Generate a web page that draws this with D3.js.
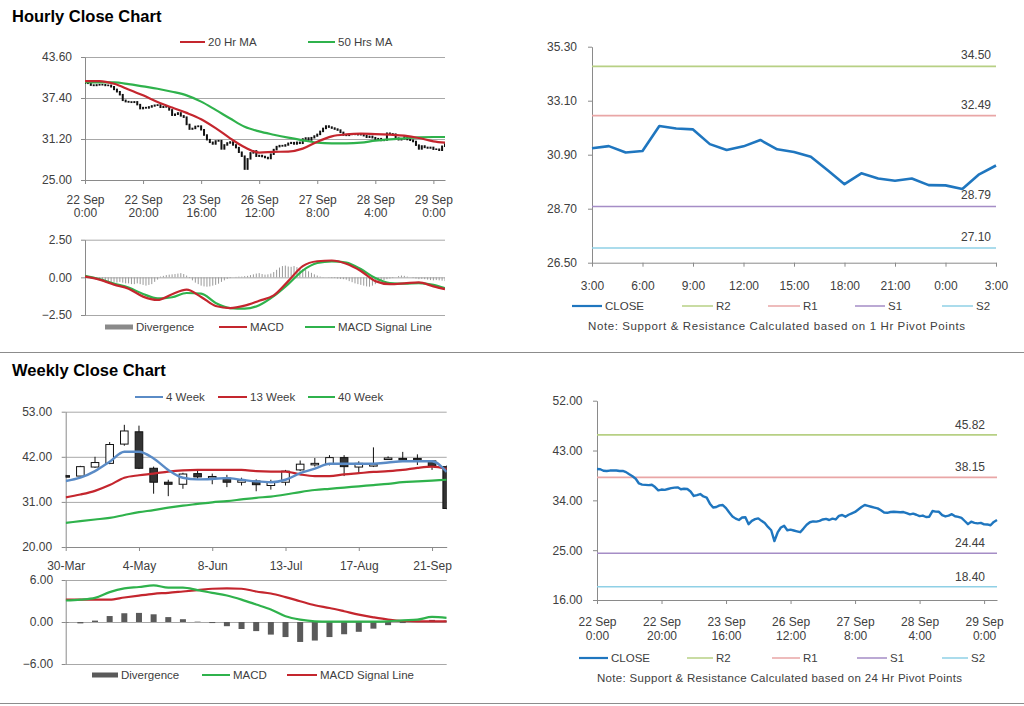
<!DOCTYPE html>
<html><head><meta charset="utf-8">
<script src="https://cdn.jsdelivr.net/npm/d3@7"></script>
<style>
body{margin:0;background:#fff;}
svg{display:block;}
</style></head><body>
<svg id="c" width="1024" height="706"></svg>
<script>
// ---------------- DATA ----------------
const hourTicks = [0, 20, 40, 60, 80, 100, 120];
const hourTickDays = ["22 Sep", "22 Sep", "23 Sep", "26 Sep", "27 Sep", "28 Sep", "29 Sep"];
const hourTickTimes = ["0:00", "20:00", "16:00", "12:00", "8:00", "4:00", "0:00"];

const hourlyClose = [
  39.66,39.62,39.35,39.30,39.38,39.42,39.40,39.30,39.32,39.10,
  38.70,38.35,37.90,37.05,36.85,36.80,36.75,36.82,36.40,35.80,
  35.95,35.90,36.05,36.20,36.30,36.35,36.00,36.10,36.05,35.60,
  34.80,34.95,35.14,34.70,34.50,33.40,32.70,32.80,33.10,33.15,
  32.60,31.80,31.10,30.70,30.45,30.90,30.95,29.70,30.30,30.60,
  30.75,30.30,29.90,29.20,28.60,26.65,28.20,29.10,29.40,28.60,
  28.70,28.55,28.40,28.25,28.90,29.60,30.05,30.20,30.15,30.30,
  30.55,30.65,30.45,30.70,30.55,31.20,31.35,31.05,31.40,31.65,
  31.90,32.35,32.80,33.16,33.00,32.85,32.70,32.55,32.20,31.80,
  31.75,31.90,31.95,31.90,31.85,31.89,31.70,31.47,31.60,31.40,
  31.16,31.25,30.99,31.05,32.07,31.97,31.93,31.33,31.09,31.24,
  31.50,31.12,31.01,30.82,30.27,29.70,30.14,29.93,29.84,29.93,
  29.66,29.65,29.50,30.10,30.46
];

const maIndex = [0,5,10,15,20,25,30,35,40,45,50,55,60,65,70,75,80,85,90,95,100,105,110,115,120,124];
const ma20Hr = [39.95,39.95,39.55,38.7,37.8,36.8,35.95,35.15,34.2,32.85,31.3,29.95,29.15,29.25,29.3,29.75,30.8,31.6,31.9,32.0,31.95,31.85,31.7,31.35,30.85,30.65];
const ma50Hr = [39.8,39.75,39.75,39.5,39.15,38.8,38.35,37.8,36.85,35.6,34.3,33.05,32.35,31.85,31.4,31.0,30.65,30.55,30.55,30.65,30.95,31.15,31.3,31.45,31.5,31.5];

const macdHourly = [0.05,-0.15,-0.48,-0.75,-1.28,-1.5,-1.12,-0.82,-1.3,-1.9,-2.04,-1.88,-1.55,-1.2,-0.25,0.75,1.07,1.12,0.9,0.42,-0.25,-0.45,-0.4,-0.33,-0.6,-0.78];
const signalHourly = [0.1,-0.12,-0.42,-0.68,-1.1,-1.4,-1.32,-1.04,-1.08,-1.7,-2.04,-2.08,-1.85,-1.25,-0.45,0.45,0.95,1.06,0.98,0.55,-0.05,-0.38,-0.42,-0.38,-0.5,-0.72];
const divergenceHourly = [
  0,-0.02,-0.05,-0.05,-0.08,-0.1,
  -0.15,-0.2,-0.25,-0.3,-0.3,-0.35,-0.3,
  -0.35,-0.4,-0.4,-0.45,-0.45,-0.4,-0.45,-0.5,
  -0.55,-0.5,-0.45,-0.3,-0.15,
  0.05,0.1,0.15,0.18,0.2,0.22,0.25,0.28,0.22,0.12,
  -0.05,-0.2,-0.35,-0.45,-0.55,-0.6,-0.62,-0.6,-0.55,-0.5,-0.42,-0.3,-0.2,-0.1,
  -0.05,0,0.03,0.05,0.05,0.08,
  0.1,0.15,0.2,0.25,0.28,0.22,0.18,0.2,0.25,
  0.35,0.5,0.65,0.75,0.78,0.72,0.7,0.75,0.68,0.6,0.55,0.5,0.4,0.3,0.2,0.12,
  0.05,0.02,0,-0.02,-0.05,-0.05,-0.08,-0.1,-0.12,-0.15,
  -0.25,-0.32,-0.4,-0.45,-0.5,-0.55,-0.6,-0.62,-0.55,-0.45,
  -0.35,-0.25,-0.18,-0.12,-0.08,-0.05,0,
  0.08,0.12,0.1,0.05,0,
  -0.05,-0.08,-0.12,-0.1,-0.12,-0.15,-0.18,-0.2,-0.18,-0.2,-0.22,-0.25
];

const lastDayTicks = [0,3,6,9,12,15,18,21,24];
const lastDayLabels = ["3:00","6:00","9:00","12:00","15:00","18:00","21:00","0:00","3:00"];
const pivotNames = ["R2","R1","S1","S2"];
const pivot1Hr = [34.50, 32.49, 28.79, 27.10];
const pivot24Hr = [45.82, 38.15, 24.44, 18.40];

const weekTicks = [0,5,10,15,20,25];
const weekLabels = ["30-Mar","4-May","8-Jun","13-Jul","17-Aug","21-Sep"];
const weekOpen  = [37.4,37.3,39.5,40.4,45.1,48.1,39.2,35.8,35.3,37.9,37.0,36.8,35.8,36.1,35.0,35.8,38.8,40.2,40.3,41.8,39.5,39.8,41.5,41.6,41.6,41.0,39.6];
const weekHigh  = [37.6,39.8,42.0,45.6,49.8,49.6,39.6,36.4,38.1,38.7,37.9,37.6,36.9,36.5,36.4,38.8,41.1,41.7,42.4,42.4,40.9,44.3,42.1,43.2,42.6,41.2,39.9];
const weekLow   = [37.0,37.2,39.3,40.2,44.7,39.0,33.0,32.4,34.2,36.7,35.3,34.6,35.0,33.6,34.0,35.0,38.5,39.6,39.9,37.3,38.3,39.5,41.3,40.8,40.0,38.8,29.2];
const weekClose = [37.2,39.6,40.6,45.0,48.3,39.2,35.8,35.3,37.8,37.1,37.2,35.8,36.3,35.2,35.9,38.5,40.2,40.4,41.8,39.6,40.4,40.1,41.7,41.5,41.4,39.8,29.4];
const ma4Week  = [36.1,36.9,38.5,40.8,43.25,43.25,41.6,38.8,36.9,36.5,36.6,36.8,36.4,36.0,35.8,36.4,38.0,39.1,40.3,40.3,40.3,40.3,40.6,40.9,40.9,40.9,38.3];
const ma13Week = [32.1,32.8,33.7,35.1,36.9,37.5,37.9,38.4,38.7,38.8,38.8,38.8,38.8,38.5,38.4,38.4,37.7,37.3,37.3,37.7,38.0,38.3,38.5,38.8,39.3,39.6,39.0];
const ma40Week = [25.9,26.3,26.7,27.1,27.8,28.5,29.0,29.6,30.1,30.5,30.9,31.2,31.6,32.0,32.3,32.8,33.4,33.9,34.2,34.5,34.8,35.1,35.4,35.8,36.0,36.2,36.4];
const macdWeekly   = [3.07,3.2,3.45,4.27,4.8,5.0,5.23,4.9,4.9,4.55,4.17,3.78,3.2,2.5,1.78,0.82,0.34,0.1,0.05,0.05,0.05,0.05,0.1,0.24,0.34,0.72,0.58];
const signalWeekly = [3.2,3.2,3.2,3.2,3.5,3.78,4.03,4.17,4.36,4.55,4.75,4.8,4.75,4.36,4.07,3.55,2.97,2.4,2.0,1.54,1.06,0.67,0.34,0.14,0.1,0.1,0.1];
const divergenceWeekly = [-0.05,-0.2,0.2,0.85,1.25,1.3,1.1,0.7,0.4,0.05,-0.15,-0.6,-1.0,-1.3,-1.8,-2.15,-2.85,-2.65,-2.15,-1.75,-1.4,-0.95,-0.45,-0.15,0.08,0.3,0.2];

// ---------------- STYLE ----------------
const FONT = "'Liberation Sans', Arial, sans-serif";
const AX = "#8a8a8a", GRID = "#a8a8a8", TXT = "#404040";
const RED = "#c4262e", GREEN = "#2fb24c", BLUE4 = "#5a8bc6", CLOSEBLUE = "#1f76bf";
const pivotColors = ["#b7d084", "#e9a6a6", "#a58dc6", "#8fd0e6"];
const FS = 12;
const LFS = 11.5;

const svg = d3.select("#c").attr("font-family", FONT);
const defs = svg.append("defs");

function txt(x, y, s, anchor, size, color, weight) {
  return svg.append("text").attr("x", x).attr("y", y).attr("text-anchor", anchor || "start")
    .attr("font-size", size || LFS).attr("fill", color || TXT).attr("font-weight", weight || "normal").text(s);
}
function styleAxis(g, size) {
  g.attr("font-family", FONT).attr("font-size", size || FS);
  g.select(".domain").attr("stroke", AX);
  g.selectAll(".tick line").attr("stroke", AX);
  g.selectAll(".tick text").attr("fill", TXT);
  return g;
}
function clip(id, x0, y0, x1, y1) {
  defs.append("clipPath").attr("id", id).append("rect")
    .attr("x", x0).attr("y", y0).attr("width", x1 - x0).attr("height", y1 - y0);
  return "url(#" + id + ")";
}
function yAxis(x, y, values, fmt, pad, gridRight) {
  if (gridRight) {
    const gg = svg.append("g").attr("transform", `translate(${x},0)`)
      .call(d3.axisLeft(y).tickValues(values).tickSize(-(gridRight - x)).tickFormat(""));
    gg.select(".domain").remove();
    gg.selectAll(".tick line").attr("stroke", GRID);
  }
  const g = svg.append("g").attr("transform", `translate(${x},0)`)
    .call(d3.axisLeft(y).tickValues(values).tickSize(4).tickSizeOuter(0).tickPadding(pad).tickFormat(fmt));
  return styleAxis(g);
}
function xAxisTwoLine(y0, x, values, top, bottom, pad, lineGap) {
  const g = svg.append("g").attr("transform", `translate(0,${y0})`)
    .call(d3.axisBottom(x).tickValues(values).tickSize(4).tickSizeOuter(0).tickPadding(pad)
      .tickFormat((d, i) => top[i]));
  styleAxis(g);
  g.selectAll(".tick text").each(function(d, i) {
    d3.select(this).append("tspan").attr("x", 0).attr("dy", lineGap).text(bottom[i]);
  });
  return g;
}
function legendLine(x1, x2, y, color, label, w) {
  svg.append("line").attr("x1", x1).attr("x2", x2).attr("y1", y).attr("y2", y)
    .attr("stroke", color).attr("stroke-width", w || 2);
  txt(x2 + 3, y + 4, label);
}
function legendBar(x1, x2, y, color, label) {
  svg.append("rect").attr("x", x1).attr("y", y - 2.5).attr("width", x2 - x1).attr("height", 5).attr("fill", color);
  txt(x2 + 3, y + 4, label);
}

// ---------------- HOURLY CLOSE (top-left) ----------------
txt(12, 22, "Hourly Close Chart", "start", 16.5, "#000", "bold");
const xH = d3.scaleLinear().domain([0, 124]).range([85, 445]);
const yH = d3.scaleLinear().domain([25, 43.6]).range([180, 57]);
yAxis(85, yH, [25, 31.2, 37.4, 43.6], d3.format(".2f"), 9, 445);
xAxisTwoLine(180, xH, hourTicks, hourTickDays, hourTickTimes, 11, 13);
const clipH = clip("cH", 85, 50, 445, 180);
const gH = svg.append("g").attr("clip-path", clipH);
gH.selectAll("rect.c").data(hourlyClose).join("rect")
  .attr("x", (d, i) => xH(i) - 1).attr("width", 2)
  .attr("y", (d, i) => Math.min(yH(d), yH(i ? hourlyClose[i - 1] : d)) - 0.75)
  .attr("height", (d, i) => Math.abs(yH(d) - yH(i ? hourlyClose[i - 1] : d)) + 1.5)
  .attr("fill", "#111");
const lineMA = (arr, xs, ys, idx) => d3.line().x((d, i) => xs(idx[i])).y(d => ys(d)).curve(d3.curveMonotoneX)(arr);
gH.append("path").attr("d", lineMA(ma50Hr, xH, yH, maIndex)).attr("fill", "none").attr("stroke", GREEN).attr("stroke-width", 2.2);
gH.append("path").attr("d", lineMA(ma20Hr, xH, yH, maIndex)).attr("fill", "none").attr("stroke", RED).attr("stroke-width", 2.2);
legendLine(180, 205, 42, RED, "20 Hr MA");
legendLine(308, 335, 42, GREEN, "50 Hrs MA");

// ---------------- HOURLY MACD ----------------
const yHM = d3.scaleLinear().domain([-2.5, 2.5]).range([315, 239.7]);
yAxis(85, yHM, [-2.5, 0, 2.5], d3.format(".2f"), 9, 445);
const gHM = svg.append("g").attr("clip-path", clip("cHM", 85, 235, 445, 316));
gHM.selectAll("rect").data(divergenceHourly).join("rect")
  .attr("x", (d, i) => xH(i) - 0.5).attr("width", 1)
  .attr("y", d => Math.min(yHM(0), yHM(d))).attr("height", d => Math.abs(yHM(d) - yHM(0)))
  .attr("fill", "#9a9a9a");
gHM.append("path").attr("d", lineMA(signalHourly, xH, yHM, maIndex)).attr("fill", "none").attr("stroke", GREEN).attr("stroke-width", 2.2);
gHM.append("path").attr("d", lineMA(macdHourly, xH, yHM, maIndex)).attr("fill", "none").attr("stroke", RED).attr("stroke-width", 2.2);
legendBar(105, 133, 327, "#8a8a8a", "Divergence");
legendLine(219, 247, 327, RED, "MACD");
legendLine(305, 335, 327, GREEN, "MACD Signal Line");

// ---------------- LAST 24 HOURS (top-right) ----------------
const lastDay = hourlyClose.slice(100);
const xR = d3.scaleLinear().domain([0, 24]).range([592, 996]);
const yR = d3.scaleLinear().domain([26.5, 35.3]).range([262.7, 46.7]);
yAxis(592, yR, [26.5, 28.7, 30.9, 33.1, 35.3], d3.format(".2f"), 11, null);
styleAxis(svg.append("g").attr("transform", "translate(0,262.7)")
  .call(d3.axisBottom(xR).tickValues(lastDayTicks).tickSize(4).tickSizeOuter(0).tickPadding(15)
    .tickFormat((d, i) => lastDayLabels[i])));
pivot1Hr.forEach((v, k) => {
  svg.append("line").attr("x1", xR(0)).attr("x2", xR(24)).attr("y1", yR(v)).attr("y2", yR(v))
    .attr("stroke", pivotColors[k]).attr("stroke-width", 1.6);
  txt(991, yR(v) - 7, d3.format(".2f")(v), "end", 12);
});
svg.append("path").attr("d", d3.line().x((d, i) => xR(i)).y(d => yR(d))(lastDay))
  .attr("fill", "none").attr("stroke", CLOSEBLUE).attr("stroke-width", 2.6).attr("stroke-linejoin", "round");
legendLine(572, 602, 306, CLOSEBLUE, "CLOSE", 2.2);
[[682, 713], [768, 800], [855, 885], [942, 973]].forEach((p, k) => legendLine(p[0], p[1], 306, pivotColors[k], pivotNames[k], 1.5));
txt(588, 330, "Note: Support & Resistance Calculated based on 1 Hr Pivot Points", "start", 11.5)
  .attr("textLength", 377).attr("lengthAdjust", "spacing");

// separators
svg.append("line").attr("x1", 0).attr("x2", 1024).attr("y1", 352.5).attr("y2", 352.5).attr("stroke", "#8c8c8c");
svg.append("line").attr("x1", 0).attr("x2", 1024).attr("y1", 703.5).attr("y2", 703.5).attr("stroke", "#8c8c8c");

// ---------------- WEEKLY CLOSE (bottom-left) ----------------
txt(12, 376, "Weekly Close Chart", "start", 16.5, "#000", "bold");
const xW = d3.scaleLinear().domain([0, 26]).range([65.7, 446.7]);
const yW = d3.scaleLinear().domain([20, 53]).range([547, 411.7]);
yAxis(65.7, yW, [20, 31, 42, 53], d3.format(".2f"), 9.5, 446.7);
styleAxis(svg.append("g").attr("transform", "translate(0,547)")
  .call(d3.axisBottom(xW).tickValues(weekTicks).tickSize(4).tickSizeOuter(0).tickPadding(10)
    .tickFormat((d, i) => weekLabels[i])));
const gW = svg.append("g").attr("clip-path", clip("cW", 65.7, 405, 446.7, 547));
const idxW = d3.range(weekClose.length);
gW.selectAll("line.w").data(idxW).join("line")
  .attr("x1", i => xW(i)).attr("x2", i => xW(i)).attr("y1", i => yW(weekHigh[i])).attr("y2", i => yW(weekLow[i]))
  .attr("stroke", "#111").attr("stroke-width", 1);
gW.selectAll("rect.b").data(idxW).join("rect")
  .attr("x", i => xW(i) - 3.8).attr("width", 7.6)
  .attr("y", i => yW(Math.max(weekOpen[i], weekClose[i])))
  .attr("height", i => Math.max(1.5, Math.abs(yW(weekOpen[i]) - yW(weekClose[i]))))
  .attr("fill", i => weekClose[i] < weekOpen[i] ? "#333" : "#fff").attr("stroke", "#111").attr("stroke-width", 1);
const lineW = (arr, ys) => d3.line().x((d, i) => xW(i)).y(d => ys(d)).curve(d3.curveMonotoneX)(arr);
gW.append("path").attr("d", lineW(ma40Week, yW)).attr("fill", "none").attr("stroke", GREEN).attr("stroke-width", 2.2);
gW.append("path").attr("d", lineW(ma13Week, yW)).attr("fill", "none").attr("stroke", RED).attr("stroke-width", 2.2);
gW.append("path").attr("d", lineW(ma4Week, yW)).attr("fill", "none").attr("stroke", BLUE4).attr("stroke-width", 2.4);
legendLine(135, 163, 397, BLUE4, "4 Week");
legendLine(218, 247, 397, RED, "13 Week");
legendLine(308, 335, 397, GREEN, "40 Week");

// ---------------- WEEKLY MACD ----------------
const yWM = d3.scaleLinear().domain([-6, 6]).range([664, 580]);
yAxis(65.7, yWM, [-6, 0, 6], d3.format(".2f"), 8.5, 446.7);
const gWM = svg.append("g").attr("clip-path", clip("cWM", 65.7, 575, 446.7, 665));
gWM.selectAll("rect").data(divergenceWeekly).join("rect")
  .attr("x", (d, i) => xW(i) - 3).attr("width", 6)
  .attr("y", d => Math.min(yWM(0), yWM(d))).attr("height", d => Math.abs(yWM(d) - yWM(0)))
  .attr("fill", "#5a5a5a");
gWM.append("path").attr("d", lineW(signalWeekly, yWM)).attr("fill", "none").attr("stroke", RED).attr("stroke-width", 2.2);
gWM.append("path").attr("d", lineW(macdWeekly, yWM)).attr("fill", "none").attr("stroke", GREEN).attr("stroke-width", 2.2);
legendBar(92, 118, 675, "#5a5a5a", "Divergence");
legendLine(202, 230, 675, GREEN, "MACD");
legendLine(287, 317, 675, RED, "MACD Signal Line");

// ---------------- HOURLY CLOSE 24Hr PIVOTS (bottom-right) ----------------
const xB = d3.scaleLinear().domain([0, 124]).range([597, 997]);
const yB = d3.scaleLinear().domain([16, 52]).range([600, 400.7]);
yAxis(597, yB, [16, 25, 34, 43, 52], d3.format(".2f"), 10.5, null);
xAxisTwoLine(600, xB, hourTicks, hourTickDays, hourTickTimes, 13.5, 14);
pivot24Hr.forEach((v, k) => {
  svg.append("line").attr("x1", xB(0)).attr("x2", xB(124)).attr("y1", yB(v)).attr("y2", yB(v))
    .attr("stroke", pivotColors[k]).attr("stroke-width", 1.6);
  txt(985, yB(v) - 6, d3.format(".2f")(v), "end", 12);
});
svg.append("path").attr("d", d3.line().x((d, i) => xB(i)).y(d => yB(d))(hourlyClose))
  .attr("fill", "none").attr("stroke", CLOSEBLUE).attr("stroke-width", 2.4).attr("stroke-linejoin", "round");
legendLine(579, 608, 658, CLOSEBLUE, "CLOSE", 2.2);
[[687, 713], [772, 800], [857, 887], [942, 968]].forEach((p, k) => legendLine(p[0], p[1], 658, pivotColors[k], pivotNames[k], 1.5));
txt(597, 682, "Note: Support & Resistance Calculated based on 24 Hr Pivot Points", "start", 11.5)
  .attr("textLength", 365).attr("lengthAdjust", "spacing");
</script>
</body></html>
